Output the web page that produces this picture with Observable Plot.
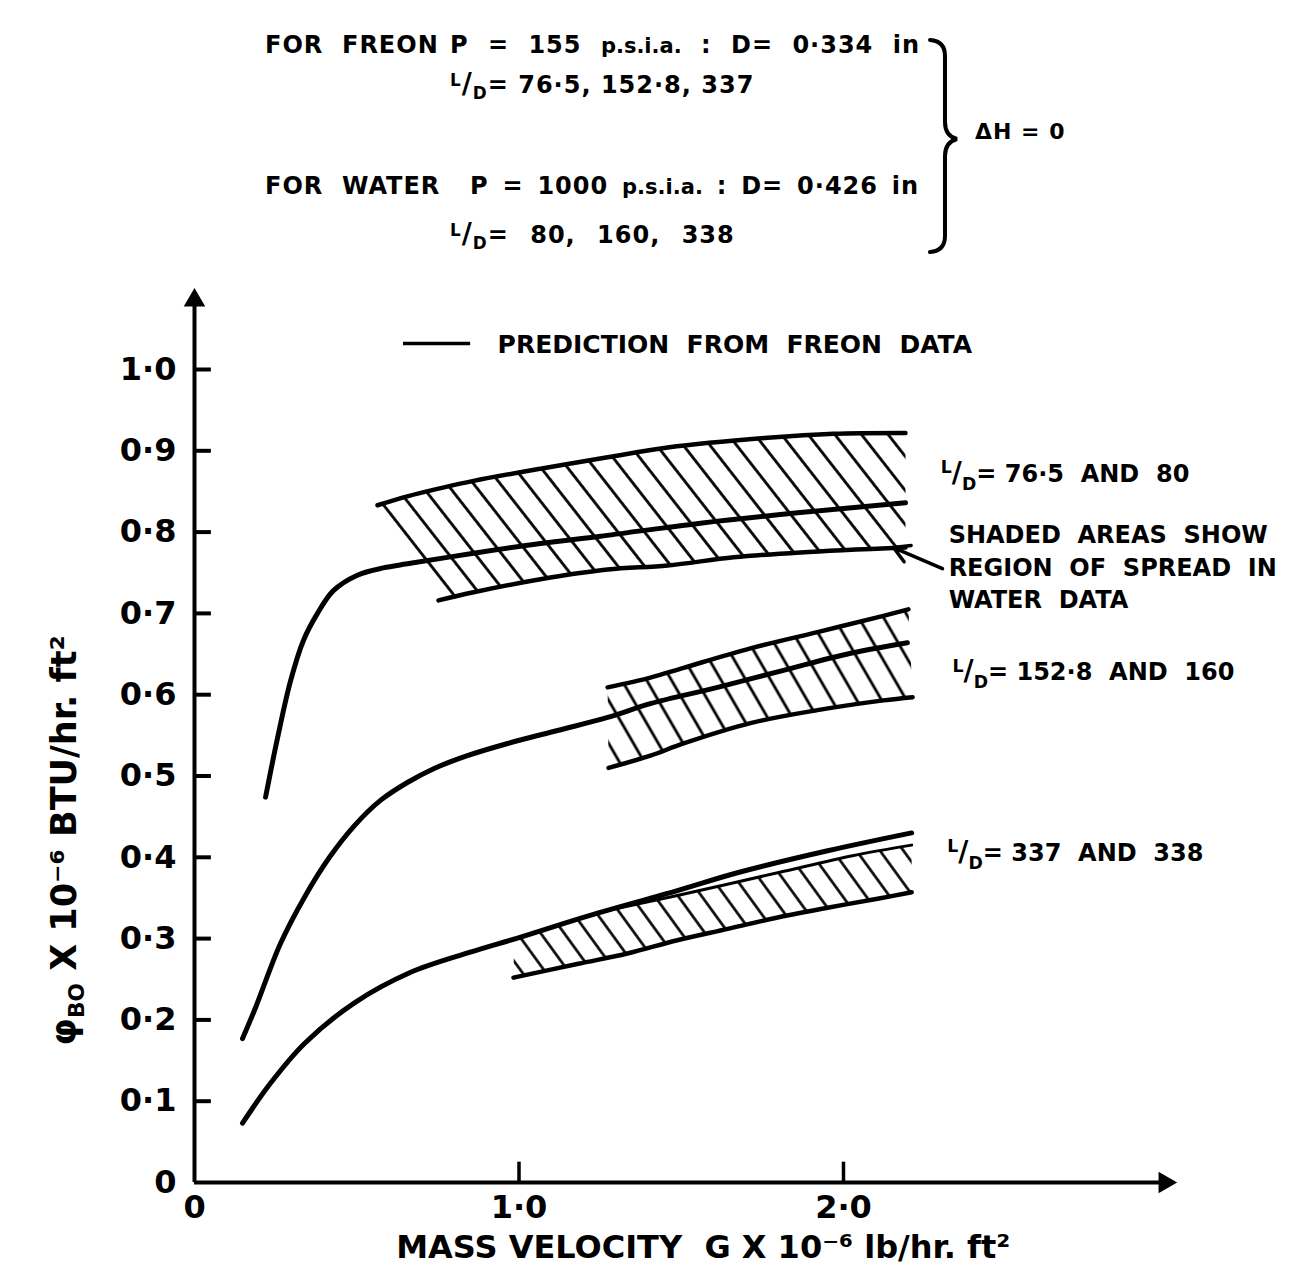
<!DOCTYPE html>
<html>
<head>
<meta charset="utf-8">
<script src="https://cdn.jsdelivr.net/npm/d3@7"></script>
<script src="https://cdn.jsdelivr.net/npm/@observablehq/plot@0.6"></script>
<style>
  html, body { margin: 0; padding: 0; background: #fff; }
  body { font-family: "DejaVu Sans", sans-serif; font-weight: bold; color: #000; }
  #page { position: relative; width: 1316px; height: 1277px; overflow: hidden; background: #fff; }
  #header { position: relative; width: 1316px; height: 270px; }
  .h { position: absolute; font-size: 24px; line-height: 24px; white-space: pre; letter-spacing: 1px; }
  .lc { font-size: 21px; letter-spacing: 0; }
  .sl { font-size: 0.7em; position: relative; top: -0.42em; }
  .sd { font-size: 0.7em; position: relative; top: 0.38em; }
  .slash { font-size: 1.15em; }
  #brace { position: absolute; left: 0; top: 0; }
  #chart svg { display: block; }
</style>
</head>
<body>
<svg width="0" height="0" style="position:absolute">
  <defs>
    <pattern id="hatch1" patternUnits="userSpaceOnUse" width="21" height="21" patternTransform="rotate(-38)">
      <line x1="10.5" y1="-2" x2="10.5" y2="23" stroke="#000" stroke-width="2.8"/>
    </pattern>
    <pattern id="hatch2" patternUnits="userSpaceOnUse" width="21.5" height="21.5" patternTransform="rotate(-30)">
      <line x1="10.75" y1="-2" x2="10.75" y2="23.5" stroke="#000" stroke-width="2.8"/>
    </pattern>
    <pattern id="hatch3" patternUnits="userSpaceOnUse" width="19" height="19" patternTransform="rotate(-36)">
      <line x1="9.5" y1="-2" x2="9.5" y2="21" stroke="#000" stroke-width="2.6"/>
    </pattern>
  </defs>
</svg>
<div id="page">
  <div id="header">
    <svg id="brace" width="1316" height="270">
      <path d="M930,40 Q945,41 945,56 L945,122 Q945,136 957,139 Q945,142 945,156 L945,236 Q945,251 930,252"
            fill="none" stroke="#000" stroke-width="4" stroke-linecap="round"/>
    </svg>
    <div class="h" style="left:265px;top:33px">FOR  FREON</div>
    <div class="h" style="left:450px;top:33px;word-spacing:10px">P = 155 <span class="lc">p.s.i.a.</span> : D= 0·334 in</div>
    <div class="h" style="left:450px;top:72px"><span class="sl">L</span><span class="slash">/</span><span class="sd">D</span>= 76·5, 152·8, 337</div>
    <div class="h" style="left:265px;top:174px">FOR  WATER</div>
    <div class="h" style="left:470px;top:174px;word-spacing:4.5px">P = 1000 <span class="lc">p.s.i.a.</span> : D= 0·426 in</div>
    <div class="h" style="left:450px;top:222px;word-spacing:12px"><span class="sl">L</span><span class="slash">/</span><span class="sd">D</span>= 80, 160, 338</div>
    <div class="h" style="left:975px;top:120px;font-size:22px">ΔH = 0</div>
  </div>
  <div id="chart"></div>
</div>
<script>
// ---------- axis ticks ----------
const xTickValues = [0, 1, 2];
const xTickLabels = ["0", "1·0", "2·0"];
const yTickValues = [0, 0.1, 0.2, 0.3, 0.4, 0.5, 0.6, 0.7, 0.8, 0.9, 1.0];
const yTickLabels = ["0", "0·1", "0·2", "0·3", "0·4", "0·5", "0·6", "0·7", "0·8", "0·9", "1·0"];

// ---------- prediction from Freon data: [G (x10^-6 lb/hr ft2), phiBO (x10^-6 BTU/hr ft2)] ----------
const predLD76 = [[0.219,0.474],[0.256,0.547],[0.296,0.617],[0.336,0.667],[0.379,0.700],[0.428,0.728],[0.502,0.747],[0.582,0.756],[0.656,0.761],[0.860,0.774],[1.066,0.786],[1.251,0.795],[1.559,0.811],[1.867,0.824],[2.191,0.836]];
const predLD153 = [[0.148,0.177],[0.188,0.215],[0.265,0.294],[0.339,0.351],[0.416,0.400],[0.493,0.439],[0.573,0.470],[0.656,0.492],[0.737,0.509],[0.841,0.525],[0.965,0.540],[1.119,0.556],[1.273,0.572],[1.405,0.589],[1.612,0.609],[1.815,0.630],[2.022,0.651],[2.197,0.664]];
const predLD337 = [[0.148,0.073],[0.234,0.122],[0.339,0.171],[0.493,0.221],[0.663,0.258],[0.847,0.283],[0.998,0.301],[1.214,0.328],[1.488,0.359],[1.673,0.381],[1.951,0.408],[2.210,0.430]];

// ---------- water data spread (shaded areas) ----------
const band76Top = [[0.564,0.833],[0.656,0.844],[0.758,0.854],[0.860,0.863],[1.066,0.878],[1.273,0.892],[1.458,0.904],[1.766,0.916],[1.969,0.921],[2.191,0.922]];
const band76Bottom = [[0.752,0.716],[0.860,0.726],[1.066,0.742],[1.273,0.754],[1.458,0.759],[1.661,0.769],[1.867,0.775],[2.191,0.781]];
const band153Top = [[1.273,0.609],[1.405,0.621],[1.507,0.633],[1.713,0.657],[1.920,0.677],[2.123,0.697],[2.200,0.705]];
const band153Bottom = [[1.276,0.510],[1.405,0.525],[1.507,0.540],[1.713,0.565],[1.920,0.581],[2.123,0.593],[2.213,0.597]];
const band337Top = [[0.985,0.300],[1.214,0.328],[1.290,0.336],[1.488,0.353],[1.797,0.381],[2.028,0.402],[2.210,0.415]];
const band337Bottom = [[0.983,0.252],[1.183,0.269],[1.337,0.282],[1.488,0.298],[1.643,0.312],[1.797,0.326],[1.951,0.338],[2.105,0.349],[2.210,0.357]];

// ---------- texts ----------
const legendText = "PREDICTION  FROM  FREON  DATA";
const xLabel = "MASS VELOCITY  G X 10⁻⁶ lb/hr. ft²";
const yLabel = "φBO X 10⁻⁶ BTU/hr. ft²";
const notes = [
  {G: 2.300, phi: 0.871, label: "L/D= 76·5  AND  80"},
  {G: 2.324, phi: 0.796, label: "SHADED  AREAS  SHOW"},
  {G: 2.324, phi: 0.756, label: "REGION  OF  SPREAD  IN"},
  {G: 2.324, phi: 0.716, label: "WATER  DATA"},
  {G: 2.336, phi: 0.627, label: "L/D= 152·8  AND  160"},
  {G: 2.320, phi: 0.405, label: "L/D= 337  AND  338"}
];

// ---------- helpers ----------
const rows = pts => pts.map(([G, phi]) => ({G, phi}));
const poly = (top, bottom) => rows([...top, ...bottom.slice().reverse()]);
const xMax = 3.0, yMax = 1.1, xArrow = 2.99, yArrow = 1.085;
const solid = {x: "G", y: "phi", stroke: "#000", strokeWidth: 4.5, curve: "catmull-rom"};
const hatch = id => ({x: "G", y: "phi", fill: `url(#${id})`, stroke: "none", curve: "linear"});
const F = "DejaVu Sans";

const chart = Plot.plot({
  width: 1316,
  height: 1007,
  marginLeft: 194,
  marginRight: 1316 - 194 - 3 * 324.5,
  marginTop: 17.7,
  marginBottom: 95,
  x: {domain: [0, xMax], axis: null},
  y: {domain: [0, yMax], axis: null},
  style: {fontFamily: F, fontWeight: "bold", color: "#000", background: "#fff", overflow: "visible"},
  marks: [
    // shaded spread areas
    Plot.line(poly(band76Top, band76Bottom), hatch("hatch1")),
    Plot.line(poly(band153Top, band153Bottom), hatch("hatch2")),
    Plot.line(poly(band337Top, band337Bottom), hatch("hatch3")),
    // boundaries of the shaded areas
    Plot.line(rows(band76Top), solid),
    Plot.line(rows(band76Bottom), solid),
    Plot.line(rows(band153Top), solid),
    Plot.line(rows(band153Bottom), solid),
    Plot.line(rows(band337Top.slice(1)), {...solid, strokeWidth: 3}),
    Plot.line(rows(band337Bottom), solid),
    // predictions
    Plot.line(rows(predLD76), {...solid, strokeWidth: 5}),
    Plot.line(rows(predLD153), {...solid, strokeWidth: 5}),
    Plot.line(rows(predLD337), {...solid, strokeWidth: 5}),
    // axes
    Plot.ruleX([0], {y1: 0, y2: yArrow, stroke: "#000", strokeWidth: 4}),
    Plot.ruleY([0], {x1: 0, x2: xArrow, stroke: "#000", strokeWidth: 4}),
    Plot.dot([{G: 0, phi: yArrow}], {x: "G", y: "phi", symbol: "triangle", r: 8, fill: "#000", stroke: "none"}),
    Plot.dot([{G: xArrow, phi: 0}], {x: "G", y: "phi", symbol: "triangle", r: 8, rotate: 90, fill: "#000", stroke: "none"}),
    // ticks (inside)
    Plot.ruleY(yTickValues.filter(v => v > 0), {x1: 0, x2: 0.052, stroke: "#000", strokeWidth: 4}),
    Plot.ruleX(xTickValues.filter(v => v > 0), {y1: 0, y2: 0.025, stroke: "#000", strokeWidth: 3.5}),
    // tick labels
    Plot.text(yTickValues, {x: 0, y: d => d, text: (d, i) => yTickLabels[i], textAnchor: "end", dx: -18, fontSize: 32, fontWeight: "bold", fill: "#000"}),
    Plot.text(xTickValues, {x: d => d, y: 0, text: (d, i) => xTickLabels[i], dy: 25, fontSize: 32, fontWeight: "bold", fill: "#000"}),
    // axis labels
    Plot.text([xLabel], {frameAnchor: "bottom", text: d => d, dx: 22, dy: 65, lineAnchor: "middle", fontSize: 32, fontWeight: "bold", fill: "#000"}),
    Plot.text([yLabel], {frameAnchor: "left", text: d => d, rotate: -90, dx: -130, dy: 105, lineAnchor: "middle", textAnchor: "middle", fontSize: 35, fontWeight: "bold", fill: "#000"}),
    // legend
    Plot.ruleY([1.032], {x1: 0.644, x2: 0.851, stroke: "#000", strokeWidth: 3.5}),
    Plot.text([legendText], {x: 0.934, y: 1.030, text: d => d, textAnchor: "start", fontSize: 25, fontWeight: "bold", fill: "#000"}),
    // annotations
    Plot.text(notes, {x: "G", y: "phi", text: "label", textAnchor: "start", fontSize: 24, fontWeight: "bold", fill: "#000"}),
    Plot.arrow([{x1: 2.305, y1: 0.755, x2: 2.154, y2: 0.781}], {x1: "x1", y1: "y1", x2: "x2", y2: "y2", stroke: "#000", strokeWidth: 3.5, headLength: 16})
  ]
});

document.getElementById("chart").appendChild(chart);

// rich text: L/D fraction and phi subscript
const root = d3.select(chart);
root.selectAll("text").each(function () {
  const t = this.textContent;
  const el = d3.select(this);
  if (t.startsWith("L/D")) {
    const fs = 24;
    el.text(null);
    el.append("tspan").attr("font-size", fs * 0.72).attr("dy", -fs * 0.36).text("L");
    el.append("tspan").attr("font-size", fs * 1.15).attr("dy", fs * 0.36).text("/");
    el.append("tspan").attr("font-size", fs * 0.72).attr("dy", fs * 0.32).text("D");
    el.append("tspan").attr("dy", -fs * 0.32).text(t.slice(3));
  } else if (t.startsWith("φBO")) {
    const fs = 35;
    el.text(null);
    el.append("tspan").text("φ");
    el.append("tspan").attr("font-size", fs * 0.62).attr("dy", fs * 0.25).text("BO");
    el.append("tspan").attr("dy", -fs * 0.25).text(t.slice(3));
  }
});
</script>
</body>
</html>
